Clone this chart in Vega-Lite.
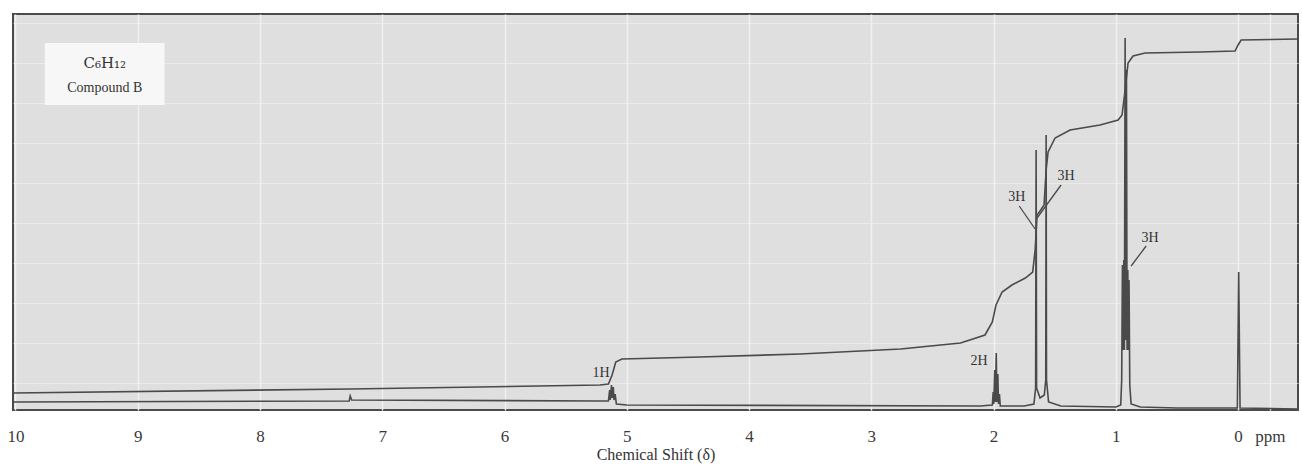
{
  "$schema": "https://vega.github.io/schema/vega-lite/v6.json",
  "width": 1285,
  "height": 396,
  "autosize": {"type": "none"},
  "padding": {"left": 13, "right": 4, "top": 14, "bottom": 57},
  "background": "white",
  "config": {
    "view": {"fill": "#dfdfdf", "stroke": "#4a4a4a", "strokeWidth": 2},
    "font": "Liberation Serif"
  },
  "datasets": {
    "curves": [
      {"s": "spec", "i": 1, "ppm": 10.02, "v": 8},
      {"s": "spec", "i": 2, "ppm": 7.27, "v": 9},
      {"s": "spec", "i": 3, "ppm": 7.262, "v": 14},
      {"s": "spec", "i": 4, "ppm": 7.25, "v": 10},
      {"s": "spec", "i": 5, "ppm": 5.22, "v": 9},
      {"s": "spec", "i": 6, "ppm": 5.15, "v": 9},
      {"s": "spec", "i": 7, "ppm": 5.14, "v": 20},
      {"s": "spec", "i": 8, "ppm": 5.135, "v": 10},
      {"s": "spec", "i": 9, "ppm": 5.125, "v": 25},
      {"s": "spec", "i": 10, "ppm": 5.12, "v": 12},
      {"s": "spec", "i": 11, "ppm": 5.11, "v": 23},
      {"s": "spec", "i": 12, "ppm": 5.105, "v": 10},
      {"s": "spec", "i": 13, "ppm": 5.095, "v": 16},
      {"s": "spec", "i": 14, "ppm": 5.085, "v": 6},
      {"s": "spec", "i": 15, "ppm": 5.0, "v": 5},
      {"s": "spec", "i": 16, "ppm": 2.11, "v": 4},
      {"s": "spec", "i": 17, "ppm": 2.01, "v": 5},
      {"s": "spec", "i": 18, "ppm": 2.003, "v": 18},
      {"s": "spec", "i": 19, "ppm": 1.998, "v": 6},
      {"s": "spec", "i": 20, "ppm": 1.99, "v": 40},
      {"s": "spec", "i": 21, "ppm": 1.985, "v": 8},
      {"s": "spec", "i": 22, "ppm": 1.978, "v": 57},
      {"s": "spec", "i": 23, "ppm": 1.973, "v": 8},
      {"s": "spec", "i": 24, "ppm": 1.965, "v": 36},
      {"s": "spec", "i": 25, "ppm": 1.96, "v": 6},
      {"s": "spec", "i": 26, "ppm": 1.952, "v": 16},
      {"s": "spec", "i": 27, "ppm": 1.945, "v": 4},
      {"s": "spec", "i": 28, "ppm": 1.75, "v": 4},
      {"s": "spec", "i": 29, "ppm": 1.67, "v": 6},
      {"s": "spec", "i": 30, "ppm": 1.656, "v": 22},
      {"s": "spec", "i": 31, "ppm": 1.652, "v": 260},
      {"s": "spec", "i": 32, "ppm": 1.648, "v": 22},
      {"s": "spec", "i": 33, "ppm": 1.62, "v": 12},
      {"s": "spec", "i": 34, "ppm": 1.585, "v": 15},
      {"s": "spec", "i": 35, "ppm": 1.573, "v": 30},
      {"s": "spec", "i": 36, "ppm": 1.57, "v": 275},
      {"s": "spec", "i": 37, "ppm": 1.567, "v": 30},
      {"s": "spec", "i": 38, "ppm": 1.55, "v": 8},
      {"s": "spec", "i": 39, "ppm": 1.45, "v": 4},
      {"s": "spec", "i": 40, "ppm": 1.0, "v": 3},
      {"s": "spec", "i": 41, "ppm": 0.96, "v": 5},
      {"s": "spec", "i": 42, "ppm": 0.952, "v": 30},
      {"s": "spec", "i": 43, "ppm": 0.946, "v": 145},
      {"s": "spec", "i": 44, "ppm": 0.942, "v": 60},
      {"s": "spec", "i": 45, "ppm": 0.935, "v": 150},
      {"s": "spec", "i": 46, "ppm": 0.93, "v": 60},
      {"s": "spec", "i": 47, "ppm": 0.924, "v": 372},
      {"s": "spec", "i": 48, "ppm": 0.92, "v": 70},
      {"s": "spec", "i": 49, "ppm": 0.913, "v": 340},
      {"s": "spec", "i": 50, "ppm": 0.908, "v": 60},
      {"s": "spec", "i": 51, "ppm": 0.902, "v": 140},
      {"s": "spec", "i": 52, "ppm": 0.898, "v": 60},
      {"s": "spec", "i": 53, "ppm": 0.892, "v": 130},
      {"s": "spec", "i": 54, "ppm": 0.886, "v": 25},
      {"s": "spec", "i": 55, "ppm": 0.875, "v": 6},
      {"s": "spec", "i": 56, "ppm": 0.8, "v": 3},
      {"s": "spec", "i": 57, "ppm": 0.5, "v": 2},
      {"s": "spec", "i": 58, "ppm": 0.006, "v": 2},
      {"s": "spec", "i": 59, "ppm": -0.005, "v": 138},
      {"s": "spec", "i": 60, "ppm": -0.016, "v": 2},
      {"s": "spec", "i": 61, "ppm": -0.49, "v": 1},
      {"s": "int", "i": 1, "ppm": 10.02, "v": 17},
      {"s": "int", "i": 2, "ppm": 7.26, "v": 21},
      {"s": "int", "i": 3, "ppm": 5.22, "v": 25},
      {"s": "int", "i": 4, "ppm": 5.15, "v": 26},
      {"s": "int", "i": 5, "ppm": 5.12, "v": 35},
      {"s": "int", "i": 6, "ppm": 5.09, "v": 48},
      {"s": "int", "i": 7, "ppm": 5.04, "v": 51},
      {"s": "int", "i": 8, "ppm": 4.4, "v": 53},
      {"s": "int", "i": 9, "ppm": 3.58, "v": 56},
      {"s": "int", "i": 10, "ppm": 2.76, "v": 61},
      {"s": "int", "i": 11, "ppm": 2.27, "v": 67},
      {"s": "int", "i": 12, "ppm": 2.07, "v": 75},
      {"s": "int", "i": 13, "ppm": 2.01, "v": 88},
      {"s": "int", "i": 14, "ppm": 1.98, "v": 105},
      {"s": "int", "i": 15, "ppm": 1.93, "v": 118},
      {"s": "int", "i": 16, "ppm": 1.85, "v": 125},
      {"s": "int", "i": 17, "ppm": 1.74, "v": 132},
      {"s": "int", "i": 18, "ppm": 1.68, "v": 138},
      {"s": "int", "i": 19, "ppm": 1.66, "v": 160},
      {"s": "int", "i": 20, "ppm": 1.644, "v": 195},
      {"s": "int", "i": 21, "ppm": 1.62, "v": 199},
      {"s": "int", "i": 22, "ppm": 1.587, "v": 205},
      {"s": "int", "i": 23, "ppm": 1.57, "v": 240},
      {"s": "int", "i": 24, "ppm": 1.554, "v": 258},
      {"s": "int", "i": 25, "ppm": 1.497, "v": 272},
      {"s": "int", "i": 26, "ppm": 1.374, "v": 280},
      {"s": "int", "i": 27, "ppm": 1.129, "v": 285},
      {"s": "int", "i": 28, "ppm": 0.981, "v": 290},
      {"s": "int", "i": 29, "ppm": 0.949, "v": 295},
      {"s": "int", "i": 30, "ppm": 0.924, "v": 320},
      {"s": "int", "i": 31, "ppm": 0.9, "v": 347},
      {"s": "int", "i": 32, "ppm": 0.859, "v": 354},
      {"s": "int", "i": 33, "ppm": 0.761, "v": 357},
      {"s": "int", "i": 34, "ppm": 0.311, "v": 358},
      {"s": "int", "i": 35, "ppm": 0.025, "v": 359},
      {"s": "int", "i": 36, "ppm": 0.0, "v": 365},
      {"s": "int", "i": 37, "ppm": -0.025, "v": 370},
      {"s": "int", "i": 38, "ppm": -0.49, "v": 371}
    ],
    "labels": [
      {"t": "3H", "ppm": 1.81, "v": 213},
      {"t": "3H", "ppm": 1.407, "v": 234},
      {"t": "3H", "ppm": 0.72, "v": 172},
      {"t": "2H", "ppm": 2.118, "v": 49},
      {"t": "1H", "ppm": 5.21, "v": 37},
      {"t": "Compound B", "ppm": 9.27, "v": 322}
    ],
    "formula": [
      {"t": "C₆H₁₂", "ppm": 9.27, "v": 347}
    ],
    "leaders": [
      {"p1": 1.79, "v1": 204, "p2": 1.66, "v2": 181},
      {"p1": 1.448, "v1": 225, "p2": 1.644, "v2": 192},
      {"p1": 0.752, "v1": 164, "p2": 0.875, "v2": 144}
    ],
    "box": [
      {"p1": 9.76, "p2": 8.78, "v1": 305, "v2": 367}
    ]
  },
  "layer": [
    {
      "data": {"name": "curves"},
      "mark": {"type": "line", "color": "#4a4a4a", "strokeWidth": 1.6, "clip": true},
      "encoding": {
        "x": {
          "field": "ppm",
          "type": "quantitative",
          "scale": {"domain": [10.02, -0.49], "nice": false, "zero": false},
          "axis": {
            "values": [10, 9, 8, 7, 6, 5, 4, 3, 2, 1, 0, -0.26],
            "labelExpr": "datum.value < -0.1 ? 'ppm' : format(datum.value, 'd')",
            "title": "Chemical Shift (δ)",
            "titleFont": "Liberation Serif",
            "titleFontSize": 16,
            "titleFontWeight": "normal",
            "titleColor": "#333333",
            "titlePadding": 2,
            "labelFont": "Liberation Serif",
            "labelFontSize": 17,
            "labelColor": "#3a3a3a",
            "labelPadding": 18,
            "ticks": false,
            "tickSize": 0,
            "domain": false,
            "grid": true,
            "gridColor": "#f0f0f0",
            "gridWidth": 1.5,
            "labelFlush": false,
            "labelOverlap": false,
            "encode": {"grid": {"update": {"strokeOpacity": {"signal": "datum.value < -0.1 ? 0 : 0.7"}}}}
          }
        },
        "y": {
          "field": "v",
          "type": "quantitative",
          "scale": {"domain": [0, 396], "nice": false, "zero": false},
          "axis": {
            "labels": false, "ticks": false, "domain": false, "title": null,
            "grid": true, "gridColor": "#f0f0f0", "gridWidth": 1.2, "gridOpacity": 0.7,
            "values": [27, 67, 107, 147, 187, 227, 267, 307, 347, 387]
          }
        },
        "detail": {"field": "s"},
        "order": {"field": "i", "type": "quantitative"}
      }
    },
    {
      "data": {"name": "box"},
      "mark": {"type": "rect", "color": "#f7f7f7"},
      "encoding": {
        "x": {"field": "p1", "type": "quantitative"},
        "x2": {"field": "p2"},
        "y": {"field": "v1", "type": "quantitative"},
        "y2": {"field": "v2"}
      }
    },
    {
      "data": {"name": "leaders"},
      "mark": {"type": "rule", "color": "#4a4a4a", "strokeWidth": 1.3},
      "encoding": {
        "x": {"field": "p1", "type": "quantitative"},
        "x2": {"field": "p2"},
        "y": {"field": "v1", "type": "quantitative"},
        "y2": {"field": "v2"}
      }
    },
    {
      "data": {"name": "labels"},
      "mark": {"type": "text", "font": "Liberation Serif", "fontSize": 14, "color": "#333333", "align": "center", "baseline": "middle"},
      "encoding": {
        "x": {"field": "ppm", "type": "quantitative"},
        "y": {"field": "v", "type": "quantitative"},
        "text": {"field": "t"}
      }
    },
    {
      "data": {"name": "formula"},
      "mark": {"type": "text", "font": "DejaVu Serif", "fontSize": 15, "color": "#333333", "align": "center", "baseline": "middle"},
      "encoding": {
        "x": {"field": "ppm", "type": "quantitative"},
        "y": {"field": "v", "type": "quantitative"},
        "text": {"field": "t"}
      }
    }
  ]
}
